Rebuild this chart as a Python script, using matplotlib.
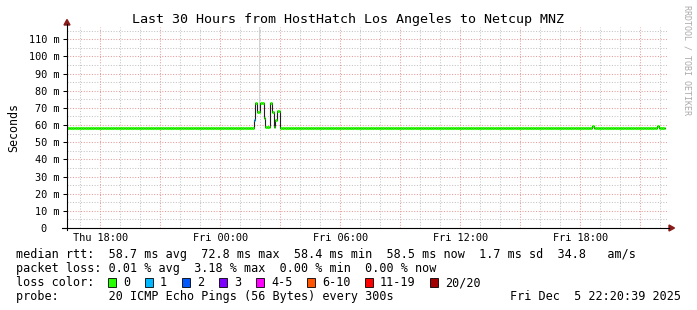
import numpy as np
import pandas as pd
import matplotlib
matplotlib.use('Agg')
import matplotlib.pyplot as plt
import matplotlib.dates as mdates
from matplotlib.ticker import MultipleLocator, FuncFormatter
from matplotlib.patches import Rectangle, Polygon
from matplotlib.lines import Line2D

W, H = 697, 310
MONO = 'DejaVu Sans Mono'

# ---- data ----
t_start = pd.Timestamp('2025-12-04 16:20')
t_end = pd.Timestamp('2025-12-05 22:20')
n_samples = 359                      # 5 minute steps, last one missing
base_rtt = 58.5                      # ms, flat median most of the time

spike_start = 112                    # sample index (~01:40 Fri)
spike_rtt = [63.0, 72.8, 67.5, 67.5, 72.8, 72.6, 64.0, 58.6, 58.6, 58.6,
             72.8, 67.5, 59.0, 63.0, 68.0, 68.0]
blip_idx = [315, 354]
blip_rtt = [59.3, 59.3]

loss_idx = [112]                     # samples with packet loss
loss_val = [1]

smoke_idx = [115]                    # sample with a far outlier ping
smoke_top = [150.0]

loss_labels = ['0', '1', '2', '3', '4-5', '6-10', '11-19', '20/20']
loss_colors = ['#26ff00', '#00b8ff', '#0059ff', '#7e00ff', '#ff00ff',
               '#ff5500', '#ff0000', '#a10000']

stat_rows = [
    'median rtt:  58.7 ms avg  72.8 ms max  58.4 ms min  58.5 ms now  1.7 ms sd  34.8   am/s',
    'packet loss: 0.01 % avg  3.18 % max  0.00 % min  0.00 % now',
]
probe_text = 'probe:       20 ICMP Echo Pings (56 Bytes) every 300s'
stamp_text = 'Fri Dec  5 22:20:39 2025'
title = 'Last 30 Hours from HostHatch Los Angeles to Netcup MNZ'

# ---- build series ----
step = pd.Timedelta(minutes=5)
times = pd.date_range(t_start, periods=n_samples, freq='5min')
median = np.full(n_samples, base_rtt)
median[spike_start:spike_start + len(spike_rtt)] = spike_rtt
median[blip_idx] = blip_rtt
loss = np.zeros(n_samples, dtype=int)
loss[loss_idx] = loss_val


def fx(px):
    return px / W


def fy(py):
    return 1 - py / H


fig = plt.figure(figsize=(W / 100, H / 100), dpi=100, facecolor='white')
ax = fig.add_axes([fx(67), fy(228), fx(667) - fx(67), fy(27.2) - fy(228)])
ax.set_facecolor('white')

# grid
ax.set_xlim(t_start, t_end)
ax.set_ylim(0, 117)
ax.xaxis.set_major_locator(mdates.HourLocator(byhour=range(0, 24, 3)))
ax.xaxis.set_minor_locator(mdates.HourLocator())
ax.xaxis.set_major_formatter(FuncFormatter(
    lambda v, p: mdates.num2date(v).strftime('%a %H:%M') if mdates.num2date(v).hour % 6 == 0 else ''))
ax.yaxis.set_major_locator(MultipleLocator(10))
ax.yaxis.set_minor_locator(MultipleLocator(5))
ax.yaxis.set_major_formatter(FuncFormatter(lambda v, p: f'{v:.0f} m' if v else '0  '))
ax.grid(which='major', color='#e89a9a', lw=0.75, ls=(0, (1, 1.6)), zorder=0)
ax.grid(which='minor', color='#c4c4c4', lw=0.75, ls=(0, (1, 1.6)), zorder=0)
ax.set_axisbelow(True)
ax.tick_params(axis='x', which='both', length=0, pad=3.5, labelsize=7.4, labelfontfamily=MONO)
ax.tick_params(axis='y', which='major', length=3, width=0.75, pad=2.5, labelsize=7.4, labelfontfamily=MONO)
ax.tick_params(axis='y', which='minor', length=0)
for s in ax.spines.values():
    s.set_visible(False)

# smoke
ax.bar([times[i] for i in smoke_idx], [smoke_top[k] - median[i] for k, i in enumerate(smoke_idx)],
       bottom=[median[i] for i in smoke_idx], width=step * 0.6, align='edge',
       color='#d2d2d2', zorder=2, lw=0)

# median: dark step line, colored by loss on the flats
ax.step(list(times) + [times[-1] + step], list(median) + [median[-1]], where='post',
        color='#202020', lw=0.8, zorder=3)
ax.hlines(median, times, times + step, colors=[loss_colors[l] for l in loss], lw=2.2, zorder=4)

ax.set_ylabel('Seconds', family=MONO, fontsize=8.4, labelpad=6)

# axis lines with arrows
axis_col = '#000000'
fig.add_artist(Line2D([fx(67), fx(67)], [fy(230), fy(24)], color=axis_col, lw=0.8))
fig.add_artist(Line2D([fx(62), fx(669)], [fy(228), fy(228)], color=axis_col, lw=0.8))
arrow_col = '#8b1a1a'
fig.add_artist(Polygon([[fx(64), fy(25)], [fx(70), fy(25)], [fx(67), fy(19.5)]],
                       closed=True, color=arrow_col, transform=fig.transFigure))
fig.add_artist(Polygon([[fx(669), fy(225)], [fx(669), fy(231)], [fx(674.5), fy(228)]],
                       closed=True, color=arrow_col, transform=fig.transFigure))

# title and watermark
fig.text(fx(348), fy(19), title, family=MONO, fontsize=9.6, ha='center', va='center')
fig.text(fx(687), fy(60), 'RRDTOOL / TOBI OETIKER', family=MONO, fontsize=6,
         color='#aaaaaa', rotation=270, ha='center', va='center')

# legend rows
fig.text(fx(16), fy(254.5), stat_rows[0], family=MONO, fontsize=8.5, va='center')
fig.text(fx(16), fy(268.5), stat_rows[1], family=MONO, fontsize=8.5, va='center')
fig.text(fx(16), fy(282.5), 'loss color:', family=MONO, fontsize=8.5, va='center')
bx = 108
for lab, col in zip(loss_labels, loss_colors):
    fig.add_artist(Rectangle((fx(bx), fy(286.5)), fx(8), fy(278) - fy(286.5),
                             facecolor=col, edgecolor='black', lw=0.6, transform=fig.transFigure))
    fig.text(fx(bx + 15), fy(282.5), lab, family=MONO, fontsize=8.5, va='center')
    bx += 30 + 7 * len(lab)
fig.text(fx(16), fy(296.5), probe_text, family=MONO, fontsize=8.5, va='center')
fig.text(fx(681), fy(296.5), stamp_text, family=MONO, fontsize=8.5, va='center', ha='right')

fig.savefig('out.png', dpi=100, facecolor='white')
